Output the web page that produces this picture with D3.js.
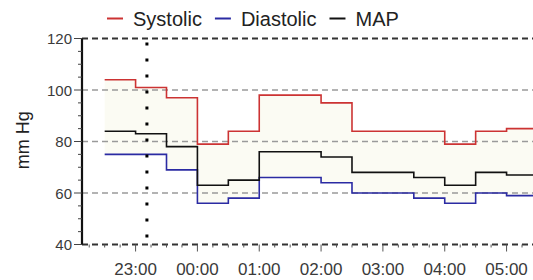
<!DOCTYPE html>
<html>
<head>
<meta charset="utf-8">
<script src="https://cdn.jsdelivr.net/npm/d3@7"></script>
<style>
  body { margin: 0; background: #fff; }
  text { font-family: "Liberation Sans", Arial, sans-serif; }
</style>
</head>
<body>
<div id="chart"></div>
<script>
// readings every 30 min (step chart, value held until next reading)
var times = ["22:30", "23:00", "23:30", "00:00", "00:30", "01:00", "01:30",
             "02:00", "02:30", "03:00", "03:30", "04:00", "04:30", "05:00"];
var systolic  = [104, 101, 97, 79, 84, 98, 98, 95, 84, 84, 84, 79, 84, 85];
var diastolic = [75, 75, 69, 56, 58, 66, 66, 64, 60, 60, 58, 56, 60, 59];
var map       = [84, 83, 78, 63, 65, 76, 76, 74, 68, 68, 66, 63, 68, 67];
var yTicks = [40, 60, 80, 100, 120];
var markerTime = "23:11";
var legendItems = [
  {name: "Systolic", color: "#cc3333"},
  {name: "Diastolic", color: "#2b2ba3"},
  {name: "MAP", color: "#111111"}
];

var W = 533, H = 280;
var margin = {top: 38.5, right: 0, bottom: 35.5, left: 82};
var pxPerHour = 61.83;

// parse HH:MM into a date, times before noon are the next day
function toDate(s) {
  var p = s.split(":").map(Number);
  var day = p[0] < 12 ? 2 : 1;
  return new Date(2020, 0, day, p[0], p[1]);
}

var svg = d3.select("#chart")
  .append("svg")
    .attr("width", W)
    .attr("height", H);

// x starts at 22:08, right edge runs past the picture
var start = toDate("22:08");
var x = d3.scaleTime()
    .domain([start, new Date(start.getTime() + (W - margin.left) / pxPerHour * 3600000)])
    .range([margin.left, W]);

var y = d3.scaleLinear()
    .domain([40, 120])
    .range([H - margin.bottom, margin.top]);

var rows = times.map(function(t, i) {
  return {t: toDate(t), sys: systolic[i], dia: diastolic[i], map: map[i]};
});
// hold last reading up to the right edge
var last = rows[rows.length - 1];
rows.push({t: x.domain()[1], sys: last.sys, dia: last.dia, map: last.map});

svg.append("clipPath").attr("id", "plot")
  .append("rect")
    .attr("x", margin.left).attr("y", margin.top - 2)
    .attr("width", W - margin.left).attr("height", y(40) - margin.top + 4);

var plot = svg.append("g").attr("clip-path", "url(#plot)");

// band between systolic and diastolic
plot.append("path")
  .datum(rows)
  .attr("fill", "#fbfbf3")
  .attr("d", d3.area()
    .curve(d3.curveStepAfter)
    .x(function(d) { return x(d.t); })
    .y0(function(d) { return y(d.dia); })
    .y1(function(d) { return y(d.sys); }));

// grid lines
plot.append("g")
  .selectAll("line")
  .data(yTicks)
  .enter()
  .append("line")
    .attr("x1", margin.left)
    .attr("x2", W)
    .attr("y1", function(d) { return y(d); })
    .attr("y2", function(d) { return y(d); })
    .attr("stroke", function(d) { return (d == 40 || d == 120) ? "#333" : "#9a9a9a"; })
    .attr("stroke-width", function(d) { return (d == 40 || d == 120) ? 2 : 1.5; })
    .attr("stroke-dasharray", "6,4");

// series lines
var series = [
  {key: "sys", color: legendItems[0].color},
  {key: "dia", color: legendItems[1].color},
  {key: "map", color: legendItems[2].color}
];
series.forEach(function(s) {
  plot.append("path")
    .datum(rows)
    .attr("fill", "none")
    .attr("stroke", s.color)
    .attr("stroke-width", 1.6)
    .attr("d", d3.line()
      .curve(d3.curveStepAfter)
      .x(function(d) { return x(d.t); })
      .y(function(d) { return y(d[s.key]); }));
});

// dotted marker line
svg.append("line")
  .attr("x1", x(toDate(markerTime)))
  .attr("x2", x(toDate(markerTime)))
  .attr("y1", y(120) + 4)
  .attr("y2", y(40))
  .attr("stroke", "#000")
  .attr("stroke-width", 3)
  .attr("stroke-dasharray", "3,13");

// left axis
svg.append("line")
  .attr("x1", margin.left).attr("x2", margin.left)
  .attr("y1", y(120)).attr("y2", y(40))
  .attr("stroke", "#111").attr("stroke-width", 2.2);

svg.append("g")
  .selectAll("line")
  .data(d3.range(40, 121, 5))
  .enter()
  .append("line")
    .attr("x1", function(d) { return margin.left - (d % 20 == 0 ? 8 : 4); })
    .attr("x2", margin.left)
    .attr("y1", function(d) { return y(d); })
    .attr("y2", function(d) { return y(d); })
    .attr("stroke", "#444")
    .attr("stroke-width", 1);

svg.append("g")
  .selectAll("text")
  .data(yTicks)
  .enter()
  .append("text")
    .attr("x", margin.left - 10)
    .attr("y", function(d) { return y(d); })
    .attr("text-anchor", "end")
    .attr("dominant-baseline", "central")
    .attr("fill", "#3a3a3a")
    .style("font-size", "15px")
    .text(function(d) { return d; });

// bottom axis ticks, every 15 min, hours longer
var xTicks = d3.timeMinute.every(15).range(x.domain()[0], x.domain()[1]);
svg.append("g")
  .selectAll("line")
  .data(xTicks)
  .enter()
  .append("line")
    .attr("x1", function(d) { return x(d); })
    .attr("x2", function(d) { return x(d); })
    .attr("y1", y(40))
    .attr("y2", function(d) { return y(40) + (d.getMinutes() == 0 ? 7 : 3); })
    .attr("stroke", "#555")
    .attr("stroke-width", 1);

svg.append("g")
  .selectAll("text")
  .data(xTicks.filter(function(d) { return d.getMinutes() == 0; }))
  .enter()
  .append("text")
    .attr("x", function(d) { return x(d); })
    .attr("y", y(40) + 24.5)
    .attr("text-anchor", "middle")
    .attr("dominant-baseline", "central")
    .attr("fill", "#3a3a3a")
    .style("font-size", "17px")
    .text(d3.timeFormat("%H:%M"));

// y axis label
svg.append("text")
  .attr("transform", "translate(29," + y(80.5) + ") rotate(-90)")
  .attr("text-anchor", "middle")
  .attr("fill", "#222")
  .style("font-size", "18px")
  .text("mm Hg");

// legend
var lx = 107;
legendItems.forEach(function(item) {
  svg.append("line")
    .attr("x1", lx).attr("x2", lx + 16)
    .attr("y1", 18.5).attr("y2", 18.5)
    .attr("stroke", item.color).attr("stroke-width", 2);
  var t = svg.append("text")
    .attr("x", lx + 26)
    .attr("y", 26)
    .attr("fill", "#222")
    .style("font-size", "20px")
    .text(item.name);
  lx += 26 + t.node().getComputedTextLength() + 13;
});
</script>
</body>
</html>
